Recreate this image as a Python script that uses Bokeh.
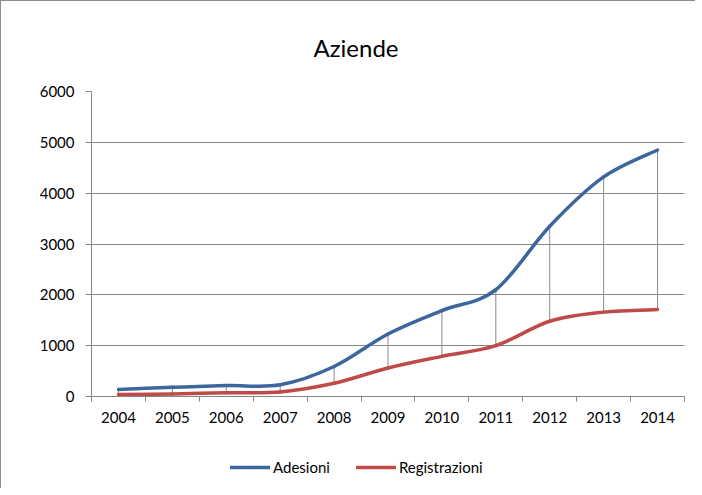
from bokeh.plotting import figure
from bokeh.layouts import column
from bokeh.models import (Range1d, FixedTicker, Legend, LegendItem, ColumnDataSource)
from bokeh.embed import file_html
from bokeh.resources import INLINE

years = ["2004", "2005", "2006", "2007", "2008", "2009", "2010", "2011", "2012", "2013", "2014"]
adesioni = [140, 180, 215, 230, 590, 1230, 1690, 2100, 3350, 4320, 4850]
registrazioni = [40, 50, 75, 90, 260, 560, 790, 1000, 1480, 1660, 1710]
series_names = ["Adesioni", "Registrazioni"]
y_ticks = [0, 1000, 2000, 3000, 4000, 5000, 6000]

BLUE = "#3D679C"
RED = "#BE4B48"
GRAY = "#868686"
FONT = "Lato"

xs = list(range(len(years)))


def bezier_source(vals):
    n = len(vals)
    pts = list(zip(xs, vals))
    d = dict(x0=[], y0=[], x1=[], y1=[], cx0=[], cy0=[], cx1=[], cy1=[])
    for i in range(n - 1):
        p0 = pts[max(i - 1, 0)]
        p1 = pts[i]
        p2 = pts[i + 1]
        p3 = pts[min(i + 2, n - 1)]
        d["x0"].append(p1[0]); d["y0"].append(p1[1])
        d["x1"].append(p2[0]); d["y1"].append(p2[1])
        d["cx0"].append(p1[0] + (p2[0] - p0[0]) / 6.0)
        d["cy0"].append(p1[1] + (p2[1] - p0[1]) / 6.0)
        d["cx1"].append(p2[0] - (p3[0] - p1[0]) / 6.0)
        d["cy1"].append(p2[1] - (p3[1] - p1[1]) / 6.0)
    return ColumnDataSource(d)


p = figure(width=694, height=430, output_backend="svg", toolbar_location=None,
           x_range=Range1d(-0.5, len(years) - 0.5), y_range=Range1d(0, 6000),
           min_border_left=90, min_border_top=90, min_border_right=11, min_border_bottom=35)
p.outline_line_color = None
p.background_fill_color = "white"
p.border_fill_color = "white"

p.title.text = "Aziende"
p.title.align = "left"
p.title.offset = 222
p.title.text_font = FONT
p.title.text_font_size = "24px"
p.title.text_font_style = "normal"
p.title.text_color = "black"
p.title.standoff = 59

# axes
p.xaxis.ticker = FixedTicker(ticks=xs, minor_ticks=[i - 0.5 for i in range(len(years) + 1)])
p.xaxis.major_label_overrides = {i: y for i, y in enumerate(years)}
p.xaxis.major_tick_out = 0
p.xaxis.major_tick_in = 0
p.xaxis.minor_tick_out = 5
p.xaxis.minor_tick_in = 0
p.xaxis.minor_tick_line_color = GRAY
p.xaxis.axis_line_color = GRAY
p.xaxis.major_label_standoff = 10
p.xaxis.major_label_text_font = FONT
p.xaxis.major_label_text_font_size = "15px"
p.xaxis.major_label_text_color = "black"

p.yaxis.ticker = FixedTicker(ticks=y_ticks)
p.yaxis.major_tick_out = 6
p.yaxis.major_tick_in = 0
p.yaxis.minor_tick_line_color = None
p.yaxis.major_tick_line_color = GRAY
p.yaxis.axis_line_color = GRAY
p.yaxis.major_label_standoff = 11
p.yaxis.major_label_text_font = FONT
p.yaxis.major_label_text_font_size = "15px"
p.yaxis.major_label_text_color = "black"

p.xgrid.grid_line_color = None
p.ygrid.grid_line_color = GRAY
p.ygrid.grid_line_width = 1

# drop lines
p.segment(x0=xs, y0=registrazioni, x1=xs, y1=adesioni, line_color="#8a8a8a", line_width=1)

p.bezier(x0="x0", y0="y0", x1="x1", y1="y1", cx0="cx0", cy0="cy0", cx1="cx1", cy1="cy1",
         source=bezier_source(adesioni), line_color=BLUE, line_width=3.5, line_cap="round")
p.bezier(x0="x0", y0="y0", x1="x1", y1="y1", cx0="cx0", cy0="cy0", cx1="cx1", cy1="cy1",
         source=bezier_source(registrazioni), line_color=RED, line_width=3.5, line_cap="round")

# legend strip
lg = figure(width=694, height=57, output_backend="svg", toolbar_location=None,
            x_range=Range1d(0, 1), y_range=Range1d(0, 1),
            min_border_left=0, min_border_right=0, min_border_top=0, min_border_bottom=0)
lg.axis.visible = False
lg.grid.visible = False
lg.outline_line_color = None
lg.border_fill_color = "white"
nan = float("nan")
lg_blue = lg.line(x=[nan], y=[nan], line_color=BLUE, line_width=3.5, line_cap="round")
lg_red = lg.line(x=[nan], y=[nan], line_color=RED, line_width=3.5, line_cap="round")

legend = Legend(items=[LegendItem(label=series_names[0], renderers=[lg_blue]),
                       LegendItem(label=series_names[1], renderers=[lg_red])],
                orientation="horizontal", location=(139, 12),
                glyph_width=40, glyph_height=14, label_standoff=3, spacing=26,
                padding=0, margin=0, border_line_color=None, background_fill_alpha=0,
                label_text_font=FONT, label_text_font_size="15px", label_text_color="black")
lg.add_layout(legend, "center")

layout = column(p, lg, spacing=0)
layout.styles = {"border-left": "1px solid #8c8c8c", "border-top": "1px solid #8c8c8c"}

open("out.html", "w").write(file_html(layout, INLINE))
